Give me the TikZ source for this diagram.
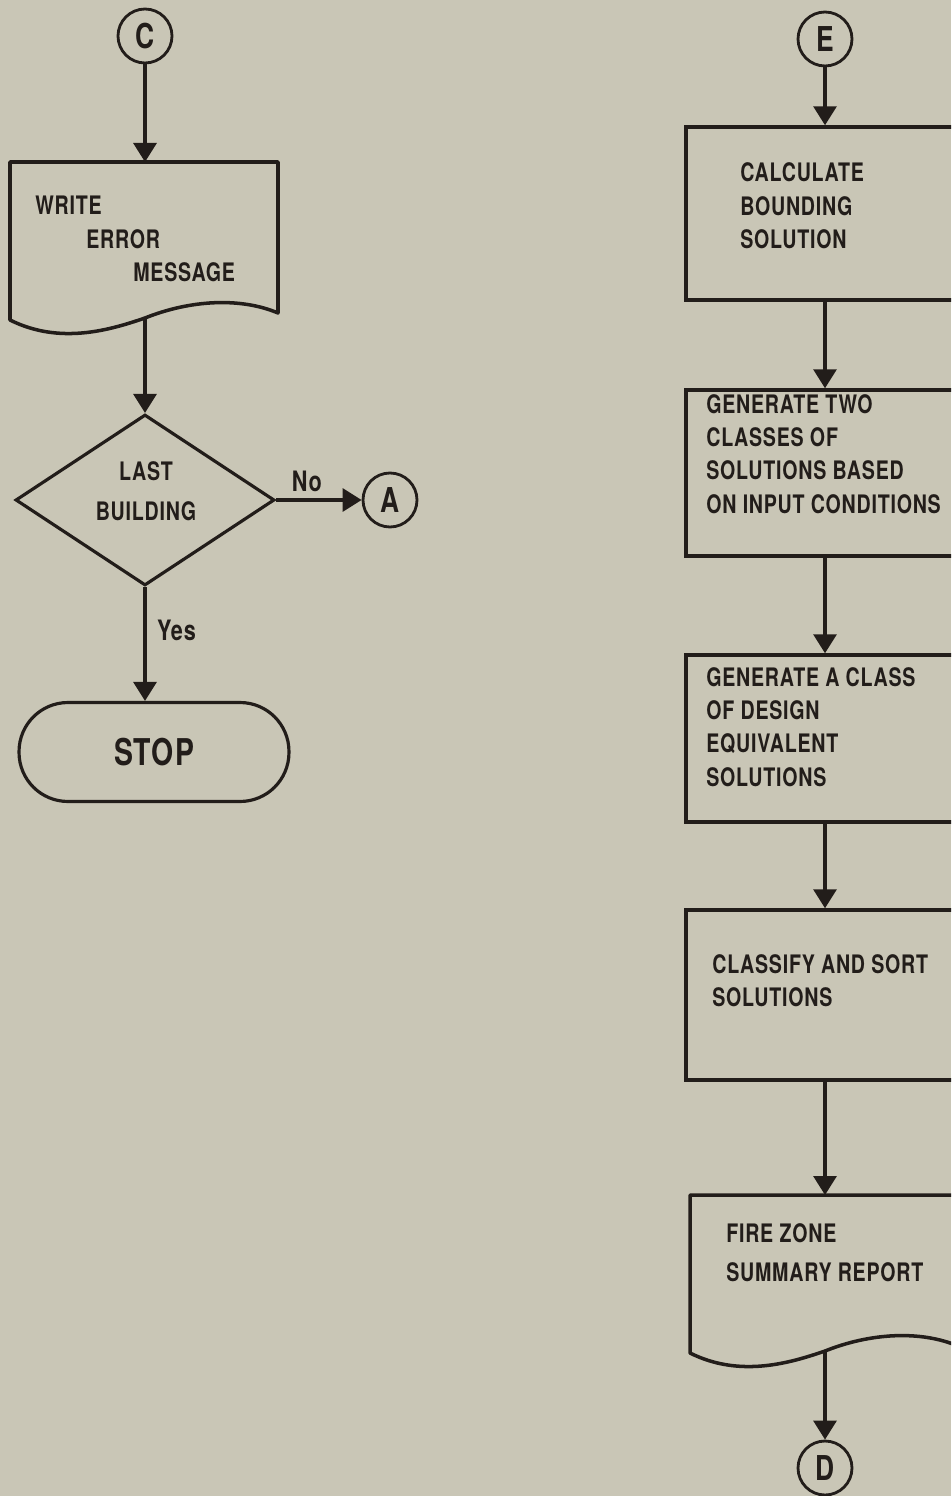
\documentclass[tikz,border=0pt]{standalone}
\usepackage{fontspec}
\newfontfamily\flowfont{TeX Gyre Heros}[FakeStretch=0.77, LetterSpace=3]
\usetikzlibrary{arrows.meta,shapes.geometric}
\definecolor{paper}{RGB}{201,198,182}
\definecolor{ink}{RGB}{34,29,26}

\begin{document}
\begin{tikzpicture}[
    x=0.02cm, y=-0.02cm,
    every node/.style={text=ink, font=\flowfont\bfseries\fontsize{14.5}{19}\selectfont},
    flow/.style={draw=ink, line width=1.8pt, -{Triangle[length=0.38cm, width=0.46cm]}},
    connector/.style={circle, draw=ink, line width=1.6pt, minimum size=1.08cm, inner sep=0pt, font=\flowfont\bfseries\fontsize{19.5}{19.5}\selectfont},
    process/.style={rectangle, draw=ink, line width=2pt, minimum width=5.56cm},
    boxtext/.style={inner sep=0pt, anchor=west, align=left},
    branch/.style={inner sep=0pt, font=\flowfont\bfseries\fontsize{16}{16}\selectfont},
    decision/.style={diamond, draw=ink, line width=1.8pt, minimum width=5.18cm, minimum height=3.42cm, inner sep=0pt},
    terminal/.style={rectangle, rounded corners=0.98cm, draw=ink, line width=1.8pt, minimum width=5.4cm, minimum height=1.98cm, font=\flowfont\bfseries\fontsize{21}{21}\selectfont},
    document/.style={draw=ink, line width=2pt, line join=round}
]

    \path[fill=paper, use as bounding box] (0,0) rectangle (951,1496);
    \clip (0,0) rectangle (951,1496);

    \node[connector] (C) at (145,36) {C};
    \draw[document] (10,162) -- (278,162) -- (278,313) .. controls (240,297) and (190,300) .. (145,318) .. controls (110,330) and (60,345) .. (10,320) -- cycle;
    \coordinate (W1in) at (145,162);
    \coordinate (W1out) at (145,318);
    \node[boxtext] (W1) at (35,239) {WRITE\\\hspace*{1.02cm}ERROR\\\hspace*{1.96cm}MESSAGE};
    \node[decision] (L1) at (145,500) {};
    \node[align=center, inner sep=0pt] (L1t) at (146,491) {LAST\\[4pt]BUILDING};
    \node[connector] (A) at (390,500) {A};
    \node[terminal] (S1) at (154,752) {STOP};

    \draw[flow] (C) -- (W1in);
    \draw[flow] (W1out) -- (L1);
    \draw[flow] (L1) -- node[branch, pos=0.36, above=4pt] {No} (A);
    \draw[flow] (L1.south) -- node[branch, pos=0.38, right=6pt] {Yes} (L1.south |- S1.north);

    \node[connector] (E) at (825,39) {E};
    \node[process, minimum height=3.46cm] (P1) at (825,213.5) {};
    \node[boxtext] (P1t) at (740,206) {CALCULATE\\BOUNDING\\SOLUTION};
    \node[process, minimum height=3.32cm] (P2) at (825,473) {};
    \node[boxtext] (P2t) at (706,454) {GENERATE TWO\\CLASSES OF\\SOLUTIONS BASED\\ON INPUT CONDITIONS};
    \node[process, minimum height=3.34cm] (P3) at (825,738.5) {};
    \node[boxtext] (P3t) at (706,727) {GENERATE A CLASS\\OF DESIGN\\EQUIVALENT\\SOLUTIONS};
    \node[process, minimum height=3.4cm] (P4) at (825,995) {};
    \node[boxtext] (P4t) at (712,981) {CLASSIFY AND SORT\\SOLUTIONS};
    \draw[document] (690,1195) -- (958,1195) -- (958,1346) .. controls (920,1330) and (870,1333) .. (825,1351) .. controls (790,1363) and (740,1378) .. (690,1353) -- cycle;
    \coordinate (R1in) at (825,1195);
    \coordinate (R1out) at (825,1351);
    \node[boxtext] (R1t) at (726,1253) {FIRE ZONE\\[3pt]SUMMARY REPORT};
    \node[connector] (D) at (825,1468) {D};

    \draw[flow] (E) -- (P1);
    \draw[flow] (P1) -- (P2);
    \draw[flow] (P2) -- (P3);
    \draw[flow] (P3) -- (P4);
    \draw[flow] (P4) -- (R1in);
    \draw[flow] (R1out) -- (D);
\end{tikzpicture}
\end{document}
